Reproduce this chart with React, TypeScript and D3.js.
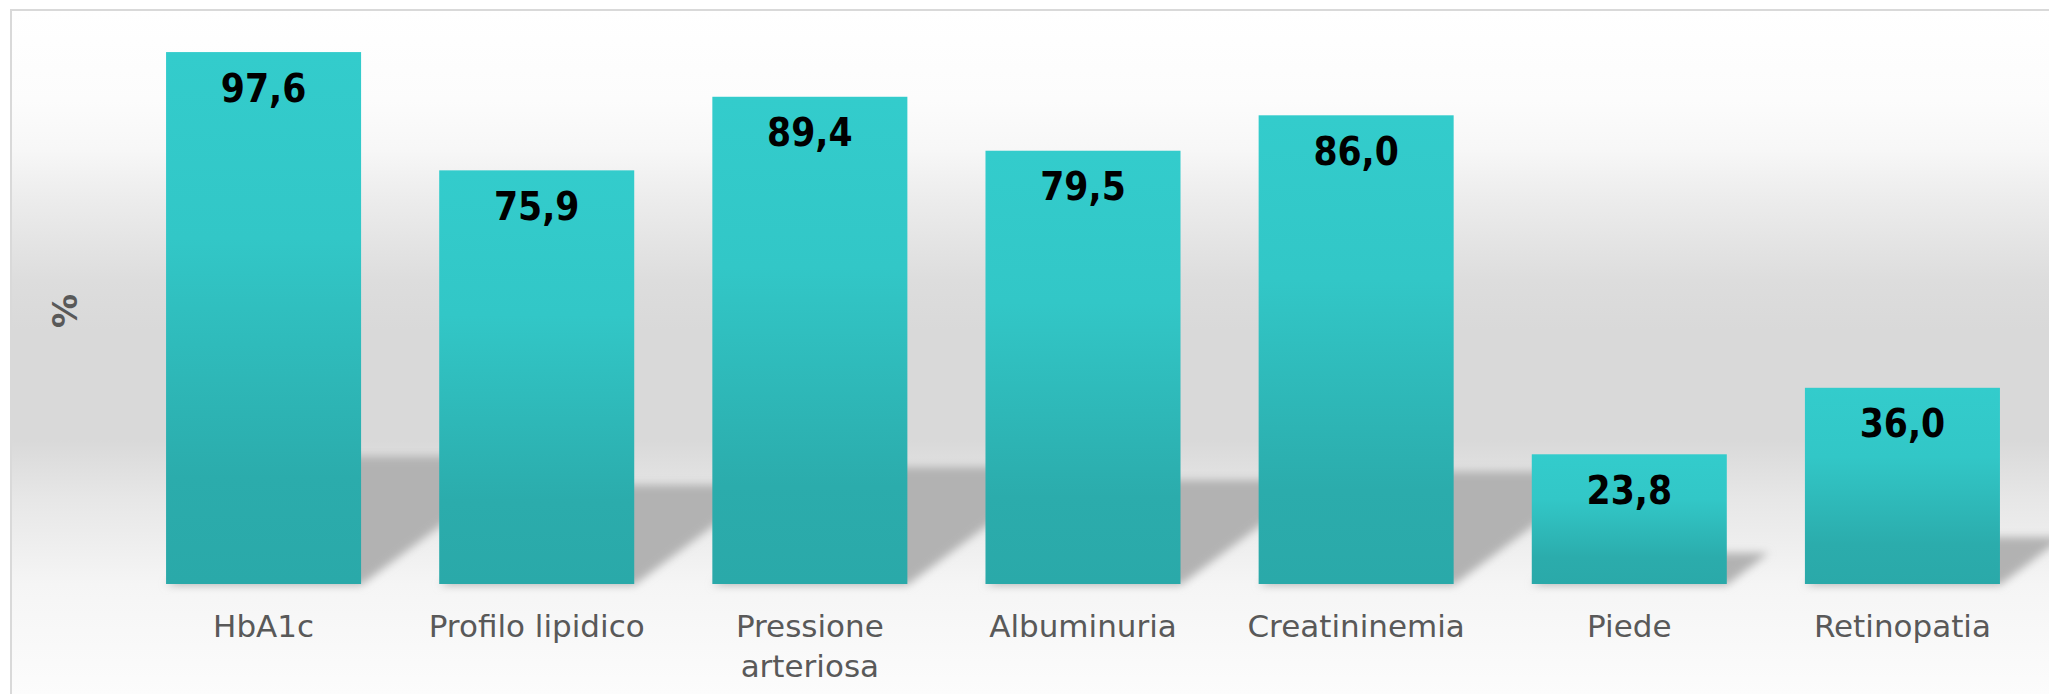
import React from "react";
import * as d3 from "d3";

const categories: string[][] = [
  ["HbA1c"],
  ["Profilo lipidico"],
  ["Pressione", "arteriosa"],
  ["Albuminuria"],
  ["Creatininemia"],
  ["Piede"],
  ["Retinopatia"],
];
const values: number[] = [97.6, 75.9, 89.4, 79.5, 86.0, 23.8, 36.0];
const valueLabels: string[] = ["97,6", "75,9", "89,4", "79,5", "86,0", "23,8", "36,0"];
const yAxisTitle = "%";

const W = 2049;
const H = 694;

export default function App() {
  const ids = categories.map((_, i) => i);
  const x = d3
    .scaleBand<number>()
    .domain(ids)
    .range([127, 2039])
    .paddingInner(0.286)
    .paddingOuter(0.143);
  const y = d3.scaleLinear().domain([0, 100]).range([584, 39]);
  const base = y(0);
  const bw = x.bandwidth();

  const shadowRatio = 0.24;
  const shear = 1.35;

  const bgStops: [number, string][] = [
    [10, "#ffffff"],
    [100, "#fcfcfc"],
    [150, "#f7f7f7"],
    [200, "#ececec"],
    [280, "#dddddd"],
    [330, "#d9d9d9"],
    [440, "#d9d9d9"],
    [500, "#e7e7e7"],
    [584, "#f5f5f5"],
    [694, "#fcfcfc"],
  ];

  return (
    <svg
      width={W}
      height={H}
      style={{ position: "absolute", left: 0, top: 0, display: "block" }}
    >
      <defs>
        <linearGradient id="bg" gradientUnits="userSpaceOnUse" x1={0} y1={10} x2={0} y2={H}>
          {bgStops.map(([p, c], i) => (
            <stop key={i} offset={(p - 10) / (H - 10)} stopColor={c} />
          ))}
        </linearGradient>
        <linearGradient id="barGrad" x1={0} y1={0} x2={0} y2={1}>
          <stop offset="0" stopColor="#33cccc" />
          <stop offset="0.35" stopColor="#32c7c7" />
          <stop offset="0.8" stopColor="#2bacac" />
          <stop offset="1" stopColor="#2aa9a9" />
        </linearGradient>
        <filter id="blur" x="-20%" y="-20%" width="140%" height="140%">
          <feGaussianBlur stdDeviation={4} />
        </filter>
      </defs>
      <rect x={0} y={0} width={W} height={H} fill="#ffffff" />
      <rect x={11} y={10} width={W + 20} height={H + 20} fill="url(#bg)" stroke="#d9d9d9" strokeWidth={2} />

      <g filter="url(#blur)">
        {values.map((v, i) => {
          const x0 = x(i)!;
          const x1 = x0 + bw;
          const hh = (base - y(v)) * shadowRatio;
          const dx = hh * shear;
          const pts = [
            [x0, base + 1],
            [x1, base + 1],
            [x1 + dx, base - hh],
            [x0 + dx, base - hh],
          ]
            .map((p) => p.join(","))
            .join(" ");
          return <polygon key={i} points={pts} fill="#b2b2b2" />;
        })}
      </g>

      {values.map((v, i) => (
        <rect
          key={i}
          x={x(i)}
          y={y(v)}
          width={bw}
          height={base - y(v)}
          fill="url(#barGrad)"
        />
      ))}

      {values.map((v, i) => (
        <text
          key={i}
          x={x(i)! + bw / 2}
          y={y(v) + 49.5}
          textAnchor="middle"
          fontFamily="'DejaVu Sans Condensed', 'DejaVu Sans', sans-serif"
          fontStretch="condensed"
          fontWeight="bold"
          fontSize={38.5}
          fill="#000000"
        >
          {valueLabels[i]}
        </text>
      ))}

      {categories.map((lines, i) => (
        <text
          key={i}
          x={x(i)! + bw / 2}
          y={637}
          textAnchor="middle"
          fontFamily="DejaVu Sans, Verdana, sans-serif"
          fontSize={31}
          fill="#595959"
        >
          {lines.map((l, j) => (
            <tspan key={j} x={x(i)! + bw / 2} dy={j === 0 ? 0 : 39.5}>
              {l}
            </tspan>
          ))}
        </text>
      ))}

      <text
        transform="translate(77,311) rotate(-90)"
        textAnchor="middle"
        fontFamily="DejaVu Sans, Verdana, sans-serif"
        fontWeight="bold"
        fontSize={34}
        fill="#595959"
      >
        {yAxisTitle}
      </text>
    </svg>
  );
}
